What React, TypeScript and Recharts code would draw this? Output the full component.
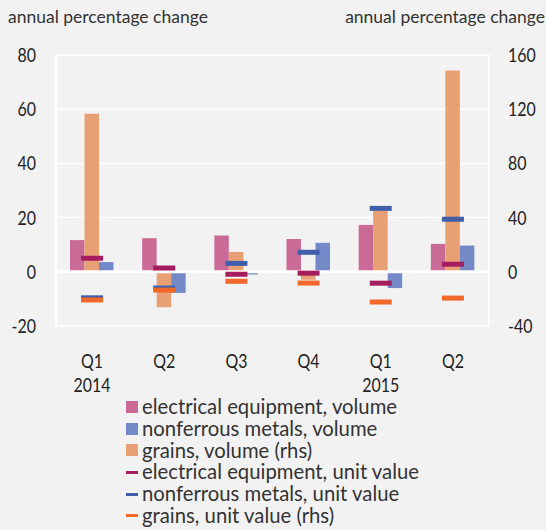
import React from 'react';
import { ComposedChart, Bar, Line, XAxis, YAxis, CartesianGrid, ReferenceLine, Legend } from 'recharts';

const quarters = ['Q1', 'Q2', 'Q3', 'Q4', 'Q1', 'Q2'];
const years = ['2014', '', '', '', '2015', ''];
const elecVolume = [11.7, 12.4, 13.4, 12.1, 17.3, 10.3];
const nonferrousVolume = [3.6, -7.8, -1.0, 10.7, -6.0, 9.7];
const grainsVolume = [116.7, -26.2, 14.7, -5.9, 44.9, 148.5];
const elecUnit = [5.0, 1.4, -0.9, -0.5, -4.2, 2.8];
const nonferrousUnit = [-9.6, -6.0, 3.1, 7.2, 23.4, 19.4];
const grainsUnit = [-20.8, -13.5, -7.0, -8.3, -22.3, -19.4];
const leftTicks = [-20, 0, 20, 40, 60, 80];
const rightTicks = [-40, 0, 40, 80, 120, 160];

const data = quarters.map((q, i) => ({
  key: `${q}-${i}`,
  q,
  year: years[i],
  elecVolume: elecVolume[i],
  nonferrousVolume: nonferrousVolume[i],
  grainsVolume: grainsVolume[i],
  elecUnit: elecUnit[i],
  nonferrousUnit: nonferrousUnit[i],
  grainsUnit: grainsUnit[i],
}));

const C = {
  elecBar: '#c96b96',
  grainsBar: '#e89f74',
  nonBar: '#7489c8',
  elecMark: '#a51c5f',
  nonMark: '#3f5faa',
  grainsMark: '#f0692a',
};

const legendItems = [
  { label: 'electrical equipment, volume', color: C.elecBar, type: 'square' },
  { label: 'nonferrous metals, volume', color: C.nonBar, type: 'square' },
  { label: 'grains, volume (rhs)', color: C.grainsBar, type: 'square' },
  { label: 'electrical equipment, unit value', color: C.elecMark, type: 'line' },
  { label: 'nonferrous metals, unit value', color: C.nonMark, type: 'line' },
  { label: 'grains, unit value (rhs)', color: C.grainsMark, type: 'line' },
];

const sans = "Lato, 'Open Sans', sans-serif";
const SX = 0.84;

const marker = (color: string) => (props: any) => {
  const { cx, cy, index } = props;
  if (cx == null || cy == null) return <g key={index} />;
  return <rect key={index} x={cx - 11} y={cy - 2.5} width={22} height={5} fill={color} />;
};

const NarrowText = ({ x, y, anchor, children }: any) => (
  <text transform={`translate(${x},${y}) scale(${SX},1)`} textAnchor={anchor} fill="#222" fontSize={19} fontFamily={sans}>{children}</text>
);

const XTick = (props: any) => {
  const { x, y, payload, index } = props;
  const d = data[index] || data.find((r) => r.key === payload.value);
  return (
    <g>
      <NarrowText x={x} y={y + 34} anchor="middle">{d ? d.q : ''}</NarrowText>
      <NarrowText x={x} y={y + 58} anchor="middle">{d ? d.year : ''}</NarrowText>
    </g>
  );
};

const LeftTick = (props: any) => {
  const { x, y, payload } = props;
  return <NarrowText x={x} y={y + 7} anchor="end">{payload.value}</NarrowText>;
};

const RightTick = (props: any) => {
  const { x, y, payload } = props;
  return <NarrowText x={x} y={y + 7} anchor="start">{payload.value}</NarrowText>;
};

const LegendContent = () => (
  <div style={{ fontFamily: sans, fontSize: 20.3, color: '#333' }}>
    {legendItems.map((it) => (
      <div key={it.label} style={{ display: 'flex', alignItems: 'center', height: 21.8, whiteSpace: 'nowrap' }}>
        <span style={{ display: 'inline-block', width: 12, height: it.type === 'square' ? 12 : 3, background: it.color, marginRight: 4 }} />
        <span style={{ display: 'inline-block', height: 21.8, lineHeight: '21.8px', overflow: 'visible' }}>{it.label}</span>
      </div>
    ))}
  </div>
);

export default function App() {
  return (
    <div style={{ position: 'fixed', top: 0, left: 0, width: 546, height: 530, background: '#f2f2f2', overflow: 'hidden' }}>
      <div style={{ position: 'absolute', left: 8, top: 6, fontFamily: sans, fontSize: 17.5, color: '#333', whiteSpace: 'nowrap' }}>annual percentage change</div>
      <div style={{ position: 'absolute', right: 1, top: 6, fontFamily: sans, fontSize: 17.5, color: '#333', whiteSpace: 'nowrap' }}>annual percentage change</div>
      <ComposedChart width={546} height={530} data={data} margin={{ top: 55, right: 0, bottom: 144, left: 0 }} barGap={0}>
        <CartesianGrid yAxisId="left" vertical={false} stroke="#ffffff" strokeWidth={1.5} />
        <XAxis dataKey="key" axisLine={false} tickLine={false} tick={<XTick />} height={60} interval={0} />
        <YAxis yAxisId="left" width={56} domain={[-20, 80]} ticks={leftTicks} axisLine={{ stroke: '#ffffff', strokeWidth: 2 }} tickLine={false} tickSize={0} tickMargin={20} tick={<LeftTick />} />
        <YAxis yAxisId="right" orientation="right" width={57} domain={[-40, 160]} ticks={rightTicks} axisLine={{ stroke: '#ffffff', strokeWidth: 2 }} tickLine={false} tickSize={0} tickMargin={19} tick={<RightTick />} />
        <Bar yAxisId="left" dataKey="elecVolume" fill={C.elecBar} barSize={14.5} isAnimationActive={false} />
        <Bar yAxisId="right" dataKey="grainsVolume" fill={C.grainsBar} barSize={14.5} isAnimationActive={false} />
        <Bar yAxisId="left" dataKey="nonferrousVolume" fill={C.nonBar} barSize={14.5} isAnimationActive={false} />
        <ReferenceLine yAxisId="left" y={0} stroke="#ffffff" strokeWidth={3} />
        <Line yAxisId="left" dataKey="elecUnit" stroke="none" dot={marker(C.elecMark)} activeDot={false} isAnimationActive={false} legendType="none" />
        <Line yAxisId="left" dataKey="nonferrousUnit" stroke="none" dot={marker(C.nonMark)} activeDot={false} isAnimationActive={false} legendType="none" />
        <Line yAxisId="right" dataKey="grainsUnit" stroke="none" dot={marker(C.grainsMark)} activeDot={false} isAnimationActive={false} legendType="none" />
        <Legend layout="vertical" align="center" verticalAlign="middle" content={<LegendContent />} wrapperStyle={{ position: 'absolute', top: 396, left: 126, width: 'auto' }} />
      </ComposedChart>
    </div>
  );
}
